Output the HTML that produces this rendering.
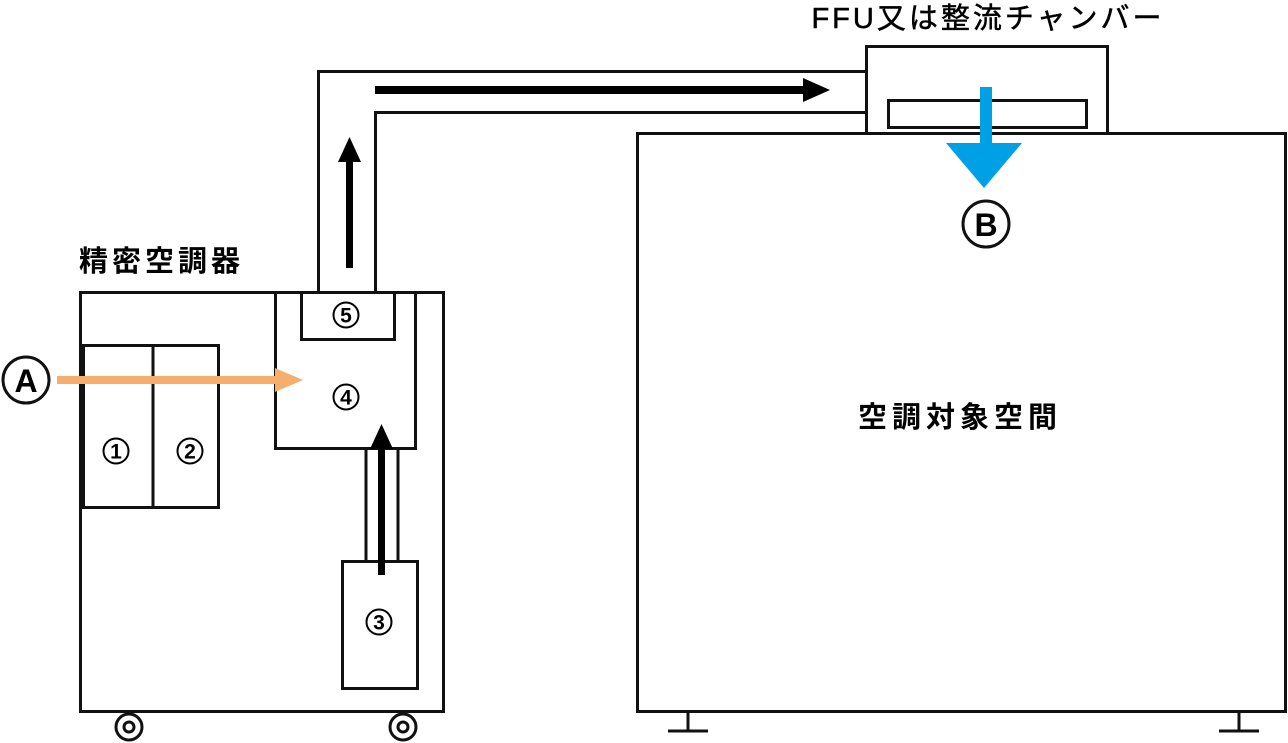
<!DOCTYPE html>
<html><head><meta charset="utf-8"><style>
html,body{margin:0;padding:0;background:#fff;}
svg{display:block;}
text{font-family:"Liberation Sans","Noto Sans CJK JP",sans-serif;fill:#000;}
</style></head><body>
<svg width="1288" height="743" viewBox="0 0 1288 743" xmlns="http://www.w3.org/2000/svg">
<g fill="none" stroke="#111" stroke-width="3">
  <rect x="80.5" y="292.5" width="363" height="419"/>
  <rect x="83.5" y="345.5" width="135" height="162"/>
  <line x1="153" y1="345" x2="153" y2="508"/>
  <rect x="275.5" y="292.5" width="140" height="156"/>
  <rect x="301.5" y="292.5" width="93" height="47"/>
  <rect x="342.5" y="561.5" width="75" height="127"/>
  <line x1="366" y1="449" x2="366" y2="561"/>
  <line x1="398" y1="449" x2="398" y2="561"/>
  <polyline points="318.5,292 318.5,71.5 866,71.5"/>
  <polyline points="375.5,292 375.5,112.5 866,112.5"/>
  <rect x="866.5" y="46.5" width="241" height="87"/>
  <rect x="888.5" y="100.5" width="198" height="27"/>
  <rect x="637.5" y="133.5" width="648" height="578"/>
  <line x1="688" y1="711" x2="688" y2="731"/>
  <line x1="668" y1="731" x2="708" y2="731"/>
  <line x1="1239" y1="711" x2="1239" y2="731"/>
  <line x1="1219" y1="731" x2="1259" y2="731"/>
  <circle cx="129" cy="727" r="13"/>
  <circle cx="129" cy="727" r="5"/>
  <circle cx="403" cy="727" r="13"/>
  <circle cx="403" cy="727" r="5"/>
  <circle cx="26" cy="380" r="23"/>
  <circle cx="986" cy="224" r="23"/>
</g>
<g fill="none" stroke="#000" stroke-width="2">
  <circle cx="116" cy="451" r="12.5"/>
  <circle cx="190" cy="451" r="12.5"/>
  <circle cx="379" cy="622" r="12.5"/>
  <circle cx="346" cy="397" r="12.5"/>
  <circle cx="346" cy="315" r="12.5"/>
</g>
<rect x="57" y="376" width="220" height="8" fill="#F5AE6B"/>
<polygon points="275,368 303,380 275,392" fill="#F5AE6B"/>
<rect x="378" y="448" width="7" height="127" fill="#000"/>
<polygon points="370,449 393,449 381.5,424" fill="#000"/>
<rect x="346" y="160" width="7" height="108" fill="#000"/>
<polygon points="338,162 361,162 349.5,137" fill="#000"/>
<rect x="375" y="86" width="430" height="8" fill="#000"/>
<polygon points="803,78 830,90 803,102" fill="#000"/>
<rect x="980" y="87" width="12" height="58" fill="#00A0E6"/>
<polygon points="946,143 1022,143 984,188" fill="#00A0E6"/>
<text x="26" y="392" font-size="32" font-weight="bold" text-anchor="middle">A</text>
<text x="986" y="236" font-size="32" font-weight="bold" text-anchor="middle">B</text>
<g font-size="21" font-weight="bold" text-anchor="middle">
<text x="116" y="458.5">1</text>
<text x="190" y="458.5">2</text>
<text x="379" y="629.5">3</text>
<text x="346" y="404.5">4</text>
<text x="346" y="322.5">5</text>
</g>
<text x="79" y="271" font-size="29" font-weight="bold" letter-spacing="4">精密空調器</text>
<text x="988" y="28" font-size="29" text-anchor="middle" letter-spacing="3" stroke="#000" stroke-width="0.5">FFU又は整流チャンバー</text>
<text x="960" y="427" font-size="29" font-weight="bold" text-anchor="middle" letter-spacing="5">空調対象空間</text>
</svg>
</body></html>
